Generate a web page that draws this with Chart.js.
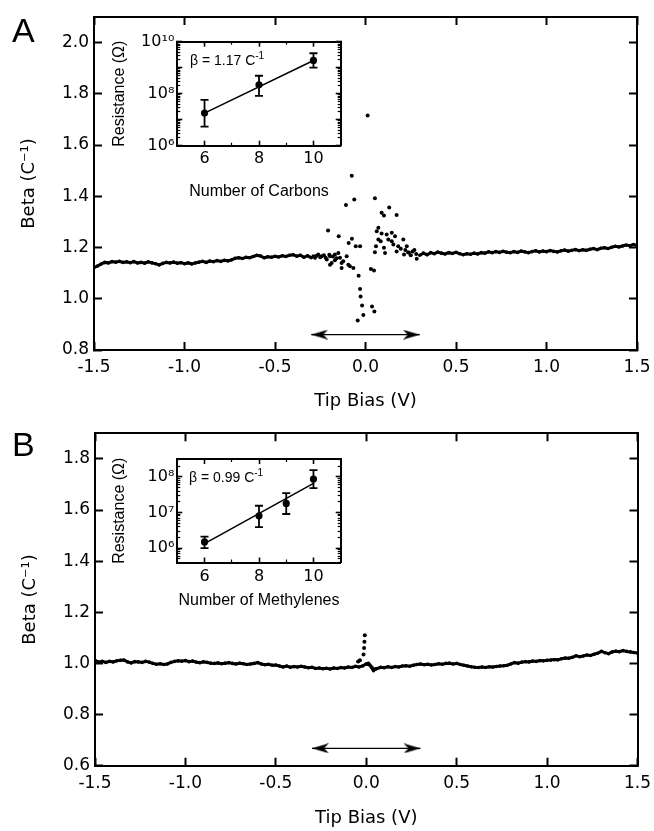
<!DOCTYPE html>
<html><head><meta charset="utf-8">
<script src="https://cdn.jsdelivr.net/npm/chart.js@4.4.1/dist/chart.umd.min.js"></script>
<style>
html,body{margin:0;padding:0;background:#fff}
body{width:654px;height:831px;position:relative;overflow:hidden;font-family:"Liberation Sans",Arial,sans-serif}
canvas{position:absolute}
.lbl{position:absolute;color:#000;font-family:"Liberation Sans",Arial,sans-serif;white-space:nowrap}
.sup{font-size:10px;position:relative;top:-6px}
</style></head><body>
<canvas id="cA" width="654" height="415" style="left:0;top:0"></canvas>
<canvas id="cB" width="654" height="416" style="left:0;top:415px"></canvas>
<canvas id="iA" width="250" height="185" style="left:100px;top:25px"></canvas>
<canvas id="iB" width="250" height="180" style="left:100px;top:440px"></canvas>
<div class="lbl" style="left:12px;top:11px;font-size:34px">A</div>
<div class="lbl" style="left:12px;top:425px;font-size:34px">B</div>
<div class="lbl" style="left:190px;top:52px;font-size:14px">β = 1.17 C<span class="sup">-1</span></div>
<div class="lbl" style="left:189px;top:469px;font-size:14px">β = 0.99 C<span class="sup">-1</span></div>
<script>
// ---------- Panel A main data ----------
const biasA_left = [-1.50,-1.48,-1.46,-1.44,-1.42,-1.40,-1.38,-1.36,-1.34,-1.32,-1.30,-1.28,-1.26,-1.24,-1.22,-1.20,-1.18,-1.16,-1.14,-1.12,-1.10,-1.08,-1.06,-1.04,-1.02,-1.00,-0.98,-0.96,-0.94,-0.92,-0.90,-0.88,-0.86,-0.84,-0.82,-0.80,-0.78,-0.76,-0.74,-0.72,-0.70,-0.68,-0.66,-0.64,-0.62,-0.60,-0.58,-0.56,-0.54,-0.52,-0.50,-0.48,-0.46,-0.44,-0.42,-0.40,-0.38,-0.36,-0.34,-0.32,-0.30];
const betaA_left = [1.122,1.128,1.136,1.142,1.140,1.145,1.143,1.146,1.142,1.144,1.141,1.145,1.140,1.142,1.139,1.144,1.140,1.137,1.132,1.138,1.142,1.140,1.143,1.139,1.141,1.137,1.140,1.136,1.140,1.143,1.146,1.142,1.147,1.145,1.149,1.146,1.150,1.148,1.152,1.158,1.160,1.157,1.162,1.160,1.165,1.170,1.167,1.160,1.164,1.162,1.166,1.163,1.168,1.165,1.170,1.172,1.166,1.170,1.162,1.168,1.160];
const biasA_right = [0.30,0.32,0.34,0.36,0.38,0.40,0.42,0.44,0.46,0.48,0.50,0.52,0.54,0.56,0.58,0.60,0.62,0.64,0.66,0.68,0.70,0.72,0.74,0.76,0.78,0.80,0.82,0.84,0.86,0.88,0.90,0.92,0.94,0.96,0.98,1.00,1.02,1.04,1.06,1.08,1.10,1.12,1.14,1.16,1.18,1.20,1.22,1.24,1.26,1.28,1.30,1.32,1.34,1.36,1.38,1.40,1.42,1.44,1.46,1.48,1.50];
const betaA_right = [1.170,1.178,1.172,1.180,1.176,1.182,1.178,1.175,1.180,1.177,1.181,1.176,1.172,1.176,1.174,1.178,1.175,1.180,1.178,1.183,1.180,1.184,1.181,1.185,1.182,1.180,1.184,1.181,1.186,1.183,1.180,1.184,1.187,1.183,1.186,1.184,1.188,1.185,1.183,1.187,1.190,1.186,1.189,1.192,1.188,1.191,1.189,1.193,1.196,1.192,1.197,1.199,1.196,1.201,1.205,1.202,1.206,1.210,1.207,1.212,1.209];
const biasA_center = [0.012,-0.076,-0.062,-0.108,0.052,0.131,0.089,0.102,0.172,-0.207,-0.148,-0.075,-0.093,-0.054,-0.030,0.071,0.062,0.089,0.117,0.145,0.163,0.071,0.084,0.126,0.145,0.209,0.058,0.102,0.154,0.181,0.052,0.108,0.172,0.213,0.283,0.228,-0.038,0.030,0.047,-0.030,-0.027,-0.019,0.036,0.049,-0.012,-0.043,-0.288,-0.261,-0.279,-0.242,-0.214,-0.196,-0.187,-0.169,-0.150,-0.141,-0.132,-0.123,-0.104,-0.095,-0.086,-0.067,-0.132,-0.196,-0.169,-0.270,-0.250,-0.230,-0.220,-0.200,-0.180,-0.160,0.220,0.240,0.260,0.280,0.250,0.270,0.195,0.235];
const betaA_center = [1.715,1.480,1.388,1.366,1.392,1.356,1.336,1.325,1.327,1.267,1.244,1.234,1.218,1.205,1.205,1.277,1.264,1.255,1.251,1.258,1.244,1.231,1.225,1.231,1.225,1.231,1.205,1.199,1.212,1.205,1.182,1.179,1.185,1.173,1.156,1.205,1.090,1.116,1.110,1.038,1.009,0.974,0.970,0.950,0.937,0.915,1.166,1.173,1.160,1.166,1.153,1.166,1.140,1.173,1.179,1.160,1.140,1.146,1.166,1.133,1.127,1.120,1.120,1.133,1.150,1.168,1.162,1.170,1.160,1.172,1.165,1.158,1.190,1.180,1.185,1.175,1.170,1.190,1.195,1.182];
const arrowBiasA = [-0.30, 0.30];
const arrowBetaA = [0.86, 0.86];

// ---------- Panel B main data ----------
const biasB = [-1.50,-1.48,-1.46,-1.44,-1.42,-1.40,-1.38,-1.36,-1.34,-1.32,-1.30,-1.28,-1.26,-1.24,-1.22,-1.20,-1.18,-1.16,-1.14,-1.12,-1.10,-1.08,-1.06,-1.04,-1.02,-1.00,-0.98,-0.96,-0.94,-0.92,-0.90,-0.88,-0.86,-0.84,-0.82,-0.80,-0.78,-0.76,-0.74,-0.72,-0.70,-0.68,-0.66,-0.64,-0.62,-0.60,-0.58,-0.56,-0.54,-0.52,-0.50,-0.48,-0.46,-0.44,-0.42,-0.40,-0.38,-0.36,-0.34,-0.32,-0.30,-0.28,-0.26,-0.24,-0.22,-0.20,-0.18,-0.16,-0.14,-0.12,-0.10,-0.08,-0.06,-0.04,-0.02,0.00,0.02,0.04,0.06,0.08,0.10,0.12,0.14,0.16,0.18,0.20,0.22,0.24,0.26,0.28,0.30,0.32,0.34,0.36,0.38,0.40,0.42,0.44,0.46,0.48,0.50,0.52,0.54,0.56,0.58,0.60,0.62,0.64,0.66,0.68,0.70,0.72,0.74,0.76,0.78,0.80,0.82,0.84,0.86,0.88,0.90,0.92,0.94,0.96,0.98,1.00,1.02,1.04,1.06,1.08,1.10,1.12,1.14,1.16,1.18,1.20,1.22,1.24,1.26,1.28,1.30,1.32,1.34,1.36,1.38,1.40,1.42,1.44,1.46,1.48,1.50];
const betaB = [1.012,1.005,1.008,1.004,1.008,1.006,1.010,1.012,1.013,1.006,1.002,1.007,1.006,1.004,1.008,1.005,1.000,0.997,0.999,0.996,0.998,1.004,1.008,1.010,1.009,1.011,1.007,1.009,1.005,1.003,1.006,1.004,1.001,1.000,1.002,0.999,1.001,1.003,1.000,0.998,1.001,0.999,0.996,0.998,1.000,1.003,0.998,0.995,0.997,0.993,0.994,0.990,0.986,0.990,0.985,0.988,0.986,0.989,0.986,0.983,0.985,0.980,0.982,0.979,0.981,0.978,0.982,0.980,0.984,0.982,0.986,0.984,0.989,0.986,0.990,0.998,0.994,0.972,0.980,0.985,0.983,0.987,0.984,0.988,0.986,0.990,0.991,0.989,0.993,0.996,0.998,0.995,0.997,0.994,0.996,0.999,0.997,1.000,1.001,0.998,1.000,0.996,0.993,0.990,0.987,0.985,0.984,0.986,0.984,0.987,0.986,0.988,0.990,0.991,0.993,0.998,1.003,1.001,1.005,1.007,1.006,1.009,1.008,1.011,1.010,1.012,1.013,1.015,1.014,1.018,1.021,1.020,1.024,1.030,1.026,1.029,1.033,1.031,1.036,1.040,1.047,1.042,1.038,1.045,1.048,1.046,1.050,1.047,1.045,1.043,1.041];
const biasB_spike = [-0.045,-0.035,-0.015,-0.012,-0.010,-0.008,0.012,0.030,0.050];
const betaB_spike = [1.008,1.012,1.035,1.060,1.085,1.110,1.000,0.985,0.978];
const arrowBiasB = [-0.30, 0.30];
const arrowBetaB = [0.668, 0.668];

// ---------- axis ticks ----------
const biasTicks = [-1.5, -1.0, -0.5, 0.0, 0.5, 1.0, 1.5];
const betaTicksA = [0.8, 1.0, 1.2, 1.4, 1.6, 1.8, 2.0];
const betaTicksB = [0.6, 0.8, 1.0, 1.2, 1.4, 1.6, 1.8];

// ---------- Insets ----------
const carbonsA = [6, 8, 10];
const resistanceA = [1.8e7, 2.2e8, 1.9e9];
const resLowA = [5.4e6, 8.2e7, 1.0e9];
const resHighA = [5.8e7, 4.9e8, 3.6e9];
const fitCarbonsA = [6, 10];
const fitResA = [1.8e7, 1.9e9];

const methylenesB = [6, 8, 9, 10];
const resistanceB = [1.5e6, 8.1e6, 1.8e7, 8.7e7];
const resLowB = [1.0e6, 3.9e6, 9.1e6, 4.8e7];
const resHighB = [2.1e6, 1.55e7, 3.5e7, 1.55e8];
const fitMethB = [6, 10];
const fitResB = [1.35e6, 6.6e7];

const insetXTicks = [6, 8, 10];
const insetXMinor = [7, 9];
const insetYTicksA = [1e6, 1e7, 1e8, 1e9, 1e10];
const insetYLabelsA = ['10⁶', '', '10⁸', '', '10¹⁰'];
const insetYTicksB = [1e6, 1e7, 1e8];
const insetYLabelsB = ['10⁶', '10⁷', '10⁸'];

// ---------- helpers ----------
const K = '#000';
const NUM = '"DejaVu Sans", sans-serif';
const TXT = '"DejaVu Sans", sans-serif';
const pts = (xs, ys) => xs.map((x, i) => ({x, y: ys[i]}));
function arrowHead() {
  const c = document.createElement('canvas'); c.width = 34; c.height = 10;
  const g = c.getContext('2d'); g.fillStyle = K;
  g.beginPath(); g.moveTo(17, 5); g.lineTo(0, 0); g.lineTo(5, 5); g.lineTo(0, 10); g.closePath(); g.fill();
  return c;
}
const head = arrowHead();
const fmt1 = v => (Math.abs(v) < 1e-9 ? 0 : v).toFixed(1);
const setT = arr => s => { s.ticks = arr.map(v => ({value: v})); };
const noPad = s => { s.paddingTop = 0; s.paddingBottom = 0; s.paddingLeft = 0; s.paddingRight = 0; };
const fitH = h => s => { s.height = h; noPad(s); };
const fitW = w => s => { s.width = w; noPad(s); };

function mainScales(o) {
  const grid = {display: true, drawOnChartArea: false, tickLength: -8, tickWidth: 2, tickColor: K};
  const border = {display: true, color: K, width: 2};
  const xBase = {type: 'linear', axis: 'x', min: -1.5, max: 1.5, bounds: 'data', grid, border, afterBuildTicks: setT(biasTicks)};
  const yBase = {type: 'linear', axis: 'y', min: o.ymin, max: o.ymax, bounds: 'data', grid, border, afterBuildTicks: setT(o.yTicks)};
  return {
    x: Object.assign({}, xBase, {position: 'bottom', weight: 1,
      ticks: {autoSkip: false, maxRotation: 0, color: K, font: {family: NUM, size: 17}, padding: 15.3, callback: fmt1},
      title: {display: true, text: 'Tip Bias (V)', color: K, font: {family: TXT, size: 18}, padding: {top: 0, bottom: o.xTitlePad}},
      afterFit: fitH(o.bottomH)}),
    x2: Object.assign({}, xBase, {position: 'top', weight: 1,
      ticks: {display: false},
      afterFit: fitH(o.topH)}),
    y: Object.assign({}, yBase, {position: 'left', weight: 1,
      ticks: {autoSkip: false, color: K, font: {family: NUM, size: 17}, padding: 13, callback: fmt1},
      title: {display: true, text: 'Beta (C⁻¹)', color: K, font: {family: TXT, size: 18}, padding: {top: o.yTitlePad, bottom: 0}},
      afterFit: fitW(o.leftW)}),
    y2: Object.assign({}, yBase, {position: 'right', weight: 1,
      ticks: {display: false},
      afterFit: fitW(o.rightW)})
  };
}

function baseOptions(scales) {
  return {
    responsive: false, animation: false, devicePixelRatio: 1, events: [],
    layout: {padding: 0},
    plugins: {legend: {display: false}, tooltip: {enabled: false}, title: {display: false}},
    scales
  };
}

const traceStyle = {showLine: true, borderColor: K, borderWidth: 3, pointRadius: 1.8, pointBackgroundColor: K, pointBorderWidth: 0, tension: 0};
const dotStyle = {showLine: false, pointRadius: 2, pointBackgroundColor: K, pointBorderWidth: 0};
const arrowStyle = {showLine: true, borderColor: K, borderWidth: 1.3, pointStyle: head, pointRotation: [180, 0], pointRadius: 8};

new Chart(document.getElementById('cA'), {
  type: 'scatter',
  data: {datasets: [
    Object.assign({data: pts(biasA_left, betaA_left)}, traceStyle),
    Object.assign({data: pts(biasA_right, betaA_right)}, traceStyle),
    Object.assign({data: pts(biasA_center, betaA_center)}, dotStyle),
    Object.assign({data: pts(arrowBiasA, arrowBetaA)}, arrowStyle)
  ]},
  options: baseOptions(mainScales({ymin: 0.8, ymax: 2.1, yTicks: betaTicksA, leftW: 94, rightW: 17, topH: 17, bottomH: 65, xTitlePad: 3.2, yTitlePad: 18.2}))
});

new Chart(document.getElementById('cB'), {
  type: 'scatter',
  data: {datasets: [
    Object.assign({data: pts(biasB, betaB)}, traceStyle),
    Object.assign({data: pts(biasB_spike, betaB_spike)}, dotStyle),
    Object.assign({data: pts(arrowBiasB, arrowBetaB)}, arrowStyle)
  ]},
  options: baseOptions(mainScales({ymin: 0.6, ymax: 1.9, yTicks: betaTicksB, leftW: 95, rightW: 16.5, topH: 18.3, bottomH: 65.3, xTitlePad: 2.2, yTitlePad: 19.2}))
});

function minorLogTicks(min, max) {
  const out = [];
  for (let e = Math.floor(Math.log10(min)); e <= Math.ceil(Math.log10(max)); e++) {
    for (let m = 2; m <= 9; m++) { const v = m * Math.pow(10, e); if (v > min && v < max) out.push(v); }
  }
  return out;
}

function insetScales(o) {
  const gridMaj = {display: true, drawOnChartArea: false, tickLength: -5, tickWidth: 1.6, tickColor: K};
  const gridMin = {display: true, drawOnChartArea: false, tickLength: -3, tickWidth: 1.2, tickColor: K};
  const border = {display: true, color: K, width: 2};
  const noBorder = {display: false};
  const xb = {type: 'linear', axis: 'x', min: 5, max: 11, bounds: 'data'};
  const yb = {type: 'logarithmic', axis: 'y', min: o.ymin, max: o.ymax, bounds: 'data'};
  const minY = minorLogTicks(o.ymin, o.ymax);
  const minTicks = {display: false, maxTicksLimit: 100};
  return {
    x: Object.assign({}, xb, {position: 'bottom', weight: 1, grid: gridMaj, border,
      afterBuildTicks: setT(insetXTicks),
      ticks: {autoSkip: false, maxRotation: 0, color: K, font: {family: NUM, size: 16}, padding: o.xPad, callback: v => String(v)},
      title: {display: true, text: o.xTitle, color: K, font: {family: '"Liberation Sans", Arial, sans-serif', size: 16}, padding: {top: 0, bottom: o.xTitlePad}},
      afterFit: fitH(o.bottomH)}),
    xm: Object.assign({}, xb, {position: 'bottom', weight: 0, grid: gridMin, border: noBorder,
      afterBuildTicks: setT(insetXMinor), ticks: minTicks, afterFit: fitH(0)}),
    x2: Object.assign({}, xb, {position: 'top', weight: 1, grid: gridMaj, border,
      afterBuildTicks: setT(insetXTicks), ticks: {display: false}, afterFit: fitH(o.topH)}),
    x2m: Object.assign({}, xb, {position: 'top', weight: 0, grid: gridMin, border: noBorder,
      afterBuildTicks: setT(insetXMinor), ticks: minTicks, afterFit: fitH(0)}),
    y: Object.assign({}, yb, {position: 'left', weight: 1, grid: gridMaj, border,
      afterBuildTicks: setT(o.yTicks),
      ticks: {autoSkip: false, color: K, font: {family: NUM, size: 16}, padding: 8,
        callback: v => { const i = o.yTicks.findIndex(t => Math.abs(Math.log10(t) - Math.log10(v)) < 1e-6); return i >= 0 ? o.yLabels[i] : ''; }},
      title: {display: true, text: 'Resistance (Ω)', color: K, font: {family: '"Liberation Sans", Arial, sans-serif', size: 16}, padding: {top: 10.4, bottom: 0}},
      afterFit: fitW(o.leftW)}),
    ym: Object.assign({}, yb, {position: 'left', weight: 0, grid: gridMin, border: noBorder,
      afterBuildTicks: setT(minY), ticks: minTicks, afterFit: fitW(0)}),
    y2: Object.assign({}, yb, {position: 'right', weight: 1, grid: gridMaj, border,
      afterBuildTicks: setT(o.yTicks), ticks: {display: false}, afterFit: fitW(o.rightW)}),
    y2m: Object.assign({}, yb, {position: 'right', weight: 0, grid: gridMin, border: noBorder,
      afterBuildTicks: setT(minY), ticks: minTicks, afterFit: fitW(0)})
  };
}

function insetDatasets(xs, ys, lo, hi, fx, fy) {
  const ds = [];
  ds.push({data: pts(fx, fy), showLine: true, borderColor: K, borderWidth: 1.5, pointRadius: 0});
  xs.forEach((x, i) => {
    ds.push({data: [{x, y: lo[i]}, {x, y: hi[i]}], showLine: true, borderColor: K, borderWidth: 1.8,
      pointStyle: 'line', pointRadius: 4, pointBorderColor: K, pointBorderWidth: 1.8});
  });
  ds.push({data: pts(xs, ys), showLine: false, pointRadius: 3.6, pointBackgroundColor: K, pointBorderWidth: 0});
  return ds;
}

new Chart(document.getElementById('iA'), {
  type: 'scatter',
  data: {datasets: insetDatasets(carbonsA, resistanceA, resLowA, resHighA, fitCarbonsA, fitResA)},
  options: baseOptions(insetScales({ymin: 1e6, ymax: 1e10, yTicks: insetYTicksA, yLabels: insetYLabelsA,
    leftW: 77.3, rightW: 9.3, topH: 16.7, bottomH: 64.3, xTitle: 'Number of Carbons', xTitlePad: 8.4, xPad: 9}))
});

new Chart(document.getElementById('iB'), {
  type: 'scatter',
  data: {datasets: insetDatasets(methylenesB, resistanceB, resLowB, resHighB, fitMethB, fitResB)},
  options: baseOptions(insetScales({ymin: Math.pow(10, 5.6), ymax: Math.pow(10, 8.5), yTicks: insetYTicksB, yLabels: insetYLabelsB,
    leftW: 77.3, rightW: 9.3, topH: 19, bottomH: 57.5, xTitle: 'Number of Methylenes', xTitlePad: 9.4, xPad: 10}))
});
</script>
</body></html>
